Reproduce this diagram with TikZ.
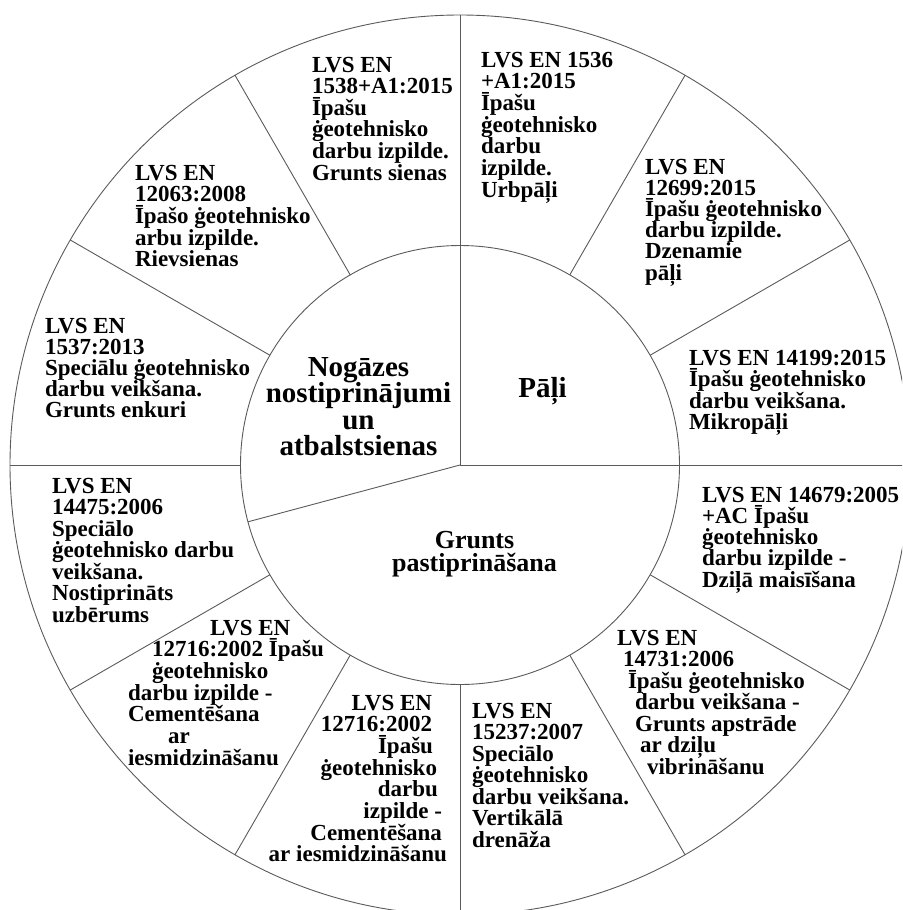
\documentclass[tikz,border=0pt]{standalone}
\usepackage{fontspec}
\setmainfont{Liberation Serif}
\definecolor{linegray}{RGB}{90,90,90}
\newcommand{\blk}[2][21.5]{\vtop{\baselineskip=#1pt\lineskiplimit=-\maxdimen\halign{##\hfil\cr #2\crcr}}}
\newcommand{\blkr}[2][21.5]{\vtop{\baselineskip=#1pt\lineskiplimit=-\maxdimen\halign{\hfil##\cr #2\crcr}}}
\newcommand{\blkc}[2][21.5]{\vtop{\baselineskip=#1pt\lineskiplimit=-\maxdimen\halign{\hfil##\hfil\cr #2\crcr}}}
\tikzset{
  seg/.style={draw=linegray, line width=0.9pt},
  lbl/.style={inner sep=0pt, outer sep=0pt, anchor=base west, font=\fontsize{23}{21.5}\selectfont\bfseries},
  lblr/.style={lbl, anchor=base east},
  hub/.style={inner sep=0pt, outer sep=0pt, anchor=base, font=\fontsize{29}{26.5}\selectfont\bfseries},
}
\begin{document}
\begin{tikzpicture}[x=1pt,y=1pt]
\useasboundingbox (0,0) rectangle (902,-910);
\clip (0,0) rectangle (902,-910);
\coordinate (C) at (460,-465);
\begin{scope}[shift={(C)}]
  \draw[seg] (0,0) circle[radius=450pt];
  \draw[seg] (0,0) circle[radius=219.5pt];
  \draw[seg] (0,0) -- (90:450pt);
  \draw[seg] (0,0) -- (0:450pt);
  \draw[seg] (0,0) -- (195:219.5pt);
  \foreach \a in {30,60,120,150,180,210,240,270,300,330}
    \draw[seg] (\a:219.5pt) -- (\a:450pt);
\end{scope}

% hub labels
\node[hub] (nog) at (358.5,-376) {\blkc[26.5]{Nogāzes\cr nostiprinājumi\cr un\cr atbalstsienas}};
\node[hub] (pali) at (542.5,-397) {Pāļi};
\node[hub, font=\fontsize{26}{23}\selectfont\bfseries] (grunts) at (474.5,-548) {\blkc[23]{Grunts\cr pastiprināšana}};

% outer segments
\node[lbl] (b1) at (312,-72) {\blk[21.6]{LVS EN\cr 1538+A1:2015\cr Īpašu\cr ġeotehnisko\cr darbu izpilde.\cr Grunts sienas}};
\node[lbl] (b2) at (481,-67) {\blk[21.7]{LVS EN 1536\cr +A1:2015\cr Īpašu\cr ġeotehnisko\cr darbu\cr izpilde.\cr Urbpāļi}};
\node[lbl] (b3) at (645,-174) {\blk[21.2]{LVS EN\cr 12699:2015\cr Īpašu ġeotehnisko\cr darbu izpilde.\cr Dzenamie\cr pāļi}};
\node[lbl] (b4) at (689,-365) {\blk[21.5]{LVS EN 14199:2015\cr Īpašu ġeotehnisko\cr darbu veikšana.\cr Mikropāļi}};
\node[lbl] (b5) at (702,-502) {\blk[21.3]{LVS EN 14679:2005\cr +AC Īpašu\cr ġeotehnisko\cr darbu izpilde -\cr Dziļā maisīšana}};
\node[lbl] (b6) at (617,-645) {\blk[21.5]{LVS EN\cr \kern6pt 14731:2006\cr \kern11pt Īpašu ġeotehnisko\cr \kern18pt darbu veikšana -\cr \kern18pt Grunts apstrāde\cr \kern23pt ar dziļu\cr \kern30pt vibrināšanu}};
\node[lbl] (b7) at (472,-718) {\blk[21.5]{LVS EN\cr 15237:2007\cr Speciālo\cr ġeotehnisko\cr darbu veikšana.\cr Vertikālā\cr drenāža}};
\node[lblr] (b8) at (447,-710) {\blkr[21.7]{LVS EN\kern15pt\cr 12716:2002\kern15pt\cr Īpašu\kern14pt\cr ġeotehnisko\kern10pt\cr darbu\kern9pt\cr izpilde -\kern5pt\cr Cementēšana\kern5pt\cr ar iesmidzināšanu}};
\node[lbl] (b9) at (128,-635) {\blk[21.7]{\kern82pt LVS EN\cr \kern24pt 12716:2002 Īpašu\cr \kern24pt ġeotehnisko\cr darbu izpilde -\cr Cementēšana\cr \kern40pt ar\cr iesmidzināšanu}};
\node[lbl] (b10) at (52,-493) {\blk[21.5]{LVS EN\cr 14475:2006\cr Speciālo\cr ġeotehnisko darbu\cr veikšana.\cr Nostiprināts\cr uzbērums}};
\node[lbl] (b11) at (45,-333) {\blk[21]{LVS EN\cr 1537:2013\cr Speciālu ġeotehnisko\cr darbu veikšana.\cr Grunts enkuri}};
\node[lbl] (b12) at (135,-180) {\blk[21.7]{LVS EN\cr 12063:2008\cr Īpašo ġeotehnisko\cr arbu izpilde.\cr Rievsienas}};
\end{tikzpicture}
\end{document}
